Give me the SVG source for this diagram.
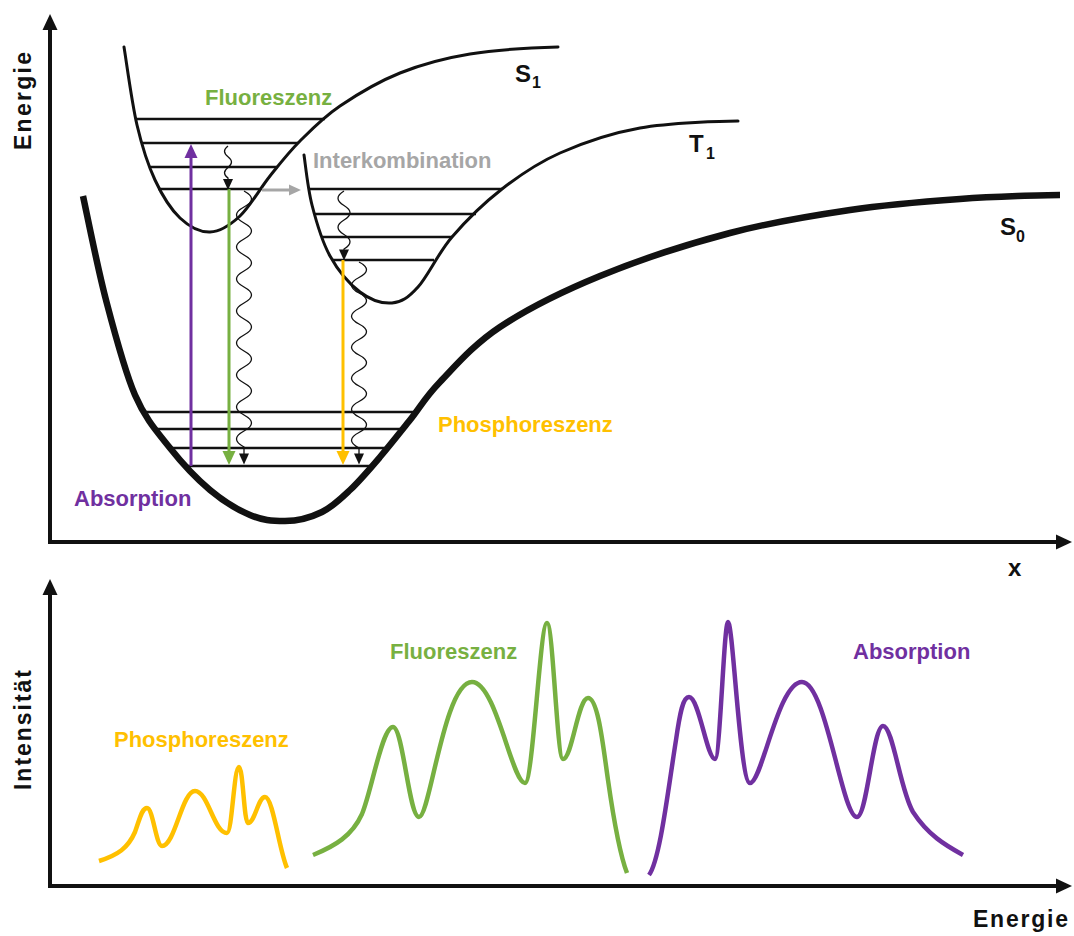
<svg xmlns="http://www.w3.org/2000/svg" width="1074" height="936" viewBox="0 0 1074 936">
<style>
text{font-family:"Liberation Sans",Arial,Helvetica,sans-serif;font-weight:bold}
.ax{stroke:#111;stroke-width:4;fill:none}
.pot{stroke:#111;stroke-width:3;fill:none;stroke-linecap:round}
.s0{stroke:#111;stroke-width:6.5;fill:none}
.lvl{stroke:#111;stroke-width:2.6}
.wave{stroke:#111;stroke-width:1.3;fill:none}
.spec{fill:none;stroke-width:4.5;stroke-linejoin:round}
.lbl{font-size:22px}
.ax-lbl{font-size:23px;fill:#111}
.st{font-size:24px;fill:#111}
.sub{font-size:16px;fill:#111}
</style>
<defs>
<marker id="m-axis" markerUnits="userSpaceOnUse" markerWidth="16" markerHeight="15" refX="1" refY="7.5" orient="auto" overflow="visible"><path d="M0,0 L16,7.5 L0,15 z" fill="#111"/></marker>
<marker id="m-k" markerUnits="userSpaceOnUse" markerWidth="11" markerHeight="10" refX="0.5" refY="5" orient="auto" overflow="visible"><path d="M0,0 L11,5 L0,10 z" fill="#111"/></marker>
<marker id="m-p" markerUnits="userSpaceOnUse" markerWidth="14" markerHeight="13" refX="1" refY="6.5" orient="auto" overflow="visible"><path d="M0,0 L14,6.5 L0,13 z" fill="#7030a0"/></marker>
<marker id="m-g" markerUnits="userSpaceOnUse" markerWidth="14" markerHeight="13" refX="1" refY="6.5" orient="auto" overflow="visible"><path d="M0,0 L14,6.5 L0,13 z" fill="#77b041"/></marker>
<marker id="m-y" markerUnits="userSpaceOnUse" markerWidth="14" markerHeight="13" refX="1" refY="6.5" orient="auto" overflow="visible"><path d="M0,0 L14,6.5 L0,13 z" fill="#ffc000"/></marker>
<marker id="m-gr" markerUnits="userSpaceOnUse" markerWidth="12" markerHeight="11" refX="1" refY="5.5" orient="auto" overflow="visible"><path d="M0,0 L12,5.5 L0,11 z" fill="#a6a6a6"/></marker>
</defs>

<g id="axes-top">
<line class="ax" x1="50" y1="544" x2="50" y2="29" marker-end="url(#m-axis)"/>
<line class="ax" x1="48" y1="542" x2="1057" y2="542" marker-end="url(#m-axis)"/>
<text class="ax-lbl" transform="translate(31,101) rotate(-90)" text-anchor="middle" textLength="98" lengthAdjust="spacing">Energie</text>
<text x="1008" y="576" class="st">x</text>
</g>

<g id="levels-S1">
<line class="lvl" x1="136" y1="119" x2="325" y2="119"/>
<line class="lvl" x1="141" y1="143" x2="298" y2="143"/>
<line class="lvl" x1="150" y1="167" x2="278" y2="167"/>
<line class="lvl" x1="158" y1="189" x2="260" y2="189"/>
</g>
<g id="levels-T1">
<line class="lvl" x1="309" y1="189" x2="502" y2="189"/>
<line class="lvl" x1="314" y1="214" x2="476" y2="214"/>
<line class="lvl" x1="322" y1="237" x2="452" y2="237"/>
<line class="lvl" x1="332" y1="260" x2="434" y2="260"/>
</g>
<g id="levels-S0">
<line class="lvl" x1="146" y1="412" x2="418" y2="412"/>
<line class="lvl" x1="156" y1="429" x2="403" y2="429"/>
<line class="lvl" x1="169" y1="448" x2="388" y2="448"/>
<line class="lvl" x1="185" y1="466" x2="373" y2="466"/>
</g>

<g id="S1">
<path class="pot" d="M124,47 C126.2,60 131.8,102.8 137,125 C142.2,147.2 147.8,164.5 155,180 C162.2,195.5 170.8,209.3 180,218 C189.2,226.7 200,232.3 210,232 C220,231.7 230,225.3 240,216 C250,206.7 260,188.5 270,176 C280,163.5 288.3,152.7 300,141 C311.7,129.3 323.3,117.3 340,106 C356.7,94.7 378.3,81.7 400,73 C421.7,64.3 443.7,58.3 470,54 C496.3,49.7 540,47.5 558,47"/>
<text x="515" y="82" class="st">S</text><text x="532" y="88" class="sub">1</text>
</g>
<g id="T1">
<path class="pot" d="M304,155 C305.3,163.3 307.7,188.2 312,205 C316.3,221.8 322,241.5 330,256 C338,270.5 349.7,284.2 360,292 C370.3,299.8 382.3,303.8 392,303 C401.7,302.2 408,298 418,287 C428,276 438,253.3 452,237 C466,220.7 484,203 502,189 C520,175 537,163.2 560,153 C583,142.8 610.3,133.3 640,128 C669.7,122.7 725,121 738,121"/>
<text x="689" y="152" class="st">T</text><text x="706" y="159" class="sub">1</text>
</g>
<g id="S0">
<path class="s0" d="M83,196 C86.8,213.3 97.3,266.8 106,300 C114.7,333.2 124.3,370.3 135,395 C145.7,419.7 157.5,432.2 170,448 C182.5,463.8 196.7,478.8 210,490 C223.3,501.2 237.5,509.8 250,515 C262.5,520.2 271.3,521 285,521 C298.7,521 311.2,517.3 322,512 C332.8,506.7 340.3,499.2 350,490 C359.7,480.8 370,468.7 380,457 C390,445.3 400,432.5 410,420 C420,407.5 425,397.5 440,382 C455,366.5 473.3,344.7 500,327 C526.7,309.3 561.7,291.7 600,276 C638.3,260.3 688.3,244 730,233 C771.7,222 811.7,215.7 850,210 C888.3,204.3 925,201.5 960,199 C995,196.5 1045,195 1060,195"/>
<text x="1000" y="235" class="st">S</text><text x="1016" y="242" class="sub">0</text>
</g>

<g id="connectors">
<line x1="191" y1="466" x2="191" y2="157" stroke="#7030a0" stroke-width="3" marker-end="url(#m-p)"/>
<line x1="229" y1="189" x2="229" y2="452" stroke="#77b041" stroke-width="3" marker-end="url(#m-g)"/>
<line x1="343" y1="260" x2="343" y2="452" stroke="#ffc000" stroke-width="3" marker-end="url(#m-y)"/>
<line x1="262" y1="190" x2="290" y2="190" stroke="#a6a6a6" stroke-width="3" marker-end="url(#m-gr)"/>
<path class="wave" d="M228,146 q-7,5.3 0,10.7 t0,10.7 t0,10.7 v1.5" marker-end="url(#m-k)"/>
<path class="wave" d="M244,191 q15,8 0,16 t0,16 t0,16 t0,16 t0,16 t0,16 t0,16 t0,16 t0,16 t0,16 t0,16 t0,16 t0,16 t0,16 t0,16 t0,16 v7" marker-end="url(#m-k)"/>
<path class="wave" d="M344,191 q-12,7.25 0,14.5 t0,14.5 t0,14.5 t0,14.5 v1" marker-end="url(#m-k)"/>
<path class="wave" d="M359,262 q15,7.75 0,15.5 t0,15.5 t0,15.5 t0,15.5 t0,15.5 t0,15.5 t0,15.5 t0,15.5 t0,15.5 t0,15.5 t0,15.5 t0,15.5 v6" marker-end="url(#m-k)"/>
</g>

<g id="labels-top">
<text x="205" y="105" class="lbl" fill="#77b041">Fluoreszenz</text>
<text x="313" y="168" class="lbl" fill="#a6a6a6">Interkombination</text>
<text x="438" y="432" class="lbl" fill="#ffc000">Phosphoreszenz</text>
<text x="74" y="506" class="lbl" fill="#7030a0">Absorption</text>
</g>

<g id="axes-bottom">
<line class="ax" x1="50" y1="888" x2="50" y2="594" marker-end="url(#m-axis)"/>
<line class="ax" x1="48" y1="886" x2="1057" y2="886" marker-end="url(#m-axis)"/>
<text class="ax-lbl" transform="translate(31,730) rotate(-90)" text-anchor="middle" textLength="120" lengthAdjust="spacing">Intensität</text>
<text x="973" y="927" class="ax-lbl" textLength="95" lengthAdjust="spacing">Energie</text>
</g>

<g id="spectrum-phosphoreszenz">
<path class="spec" stroke="#ffc000" d="M99,861 C118,855 128,848 135,832 C140,818 142,808 147,808 C153,808 156,846 162,846 C175,846 182,791 195,791 C208,791 214,833 227,833 C232,833 234,767 239,767 C243,767 244,823 248,823 C255,823 258,797 265,797 C273,797 279,850 287,868"/>
<text x="114" y="747" class="lbl" fill="#ffc000">Phosphoreszenz</text>
</g>
<g id="spectrum-fluoreszenz">
<path class="spec" stroke="#77b041" d="M313,855 C335,846 352,836 362,814 C372,790 382,727 393,727 C403,727 409,817 419,817 C430,817 444,682 472,682 C496,682 512,783 525,783 C533,783 540,623 547,623 C553,623 557,759 563,759 C572,759 578,698 588,698 C598,698 603,745 608,780 C613,815 620,855 627,873"/>
<text x="390" y="659" class="lbl" fill="#77b041">Fluoreszenz</text>
</g>
<g id="spectrum-absorption">
<path class="spec" stroke="#7030a0" d="M649,875 C660,860 668,790 676,740 C680,712 683,697 689,697 C699,697 707,759 715,759 C720,759 724,622 728,622 C733,622 740,783 750,783 C762,783 778,682 802,682 C826,682 842,817 857,817 C867,817 873,726 883,726 C893,726 900,790 913,812 C928,835 945,845 963,855"/>
<text x="853" y="659" class="lbl" fill="#7030a0">Absorption</text>
</g>
</svg>
